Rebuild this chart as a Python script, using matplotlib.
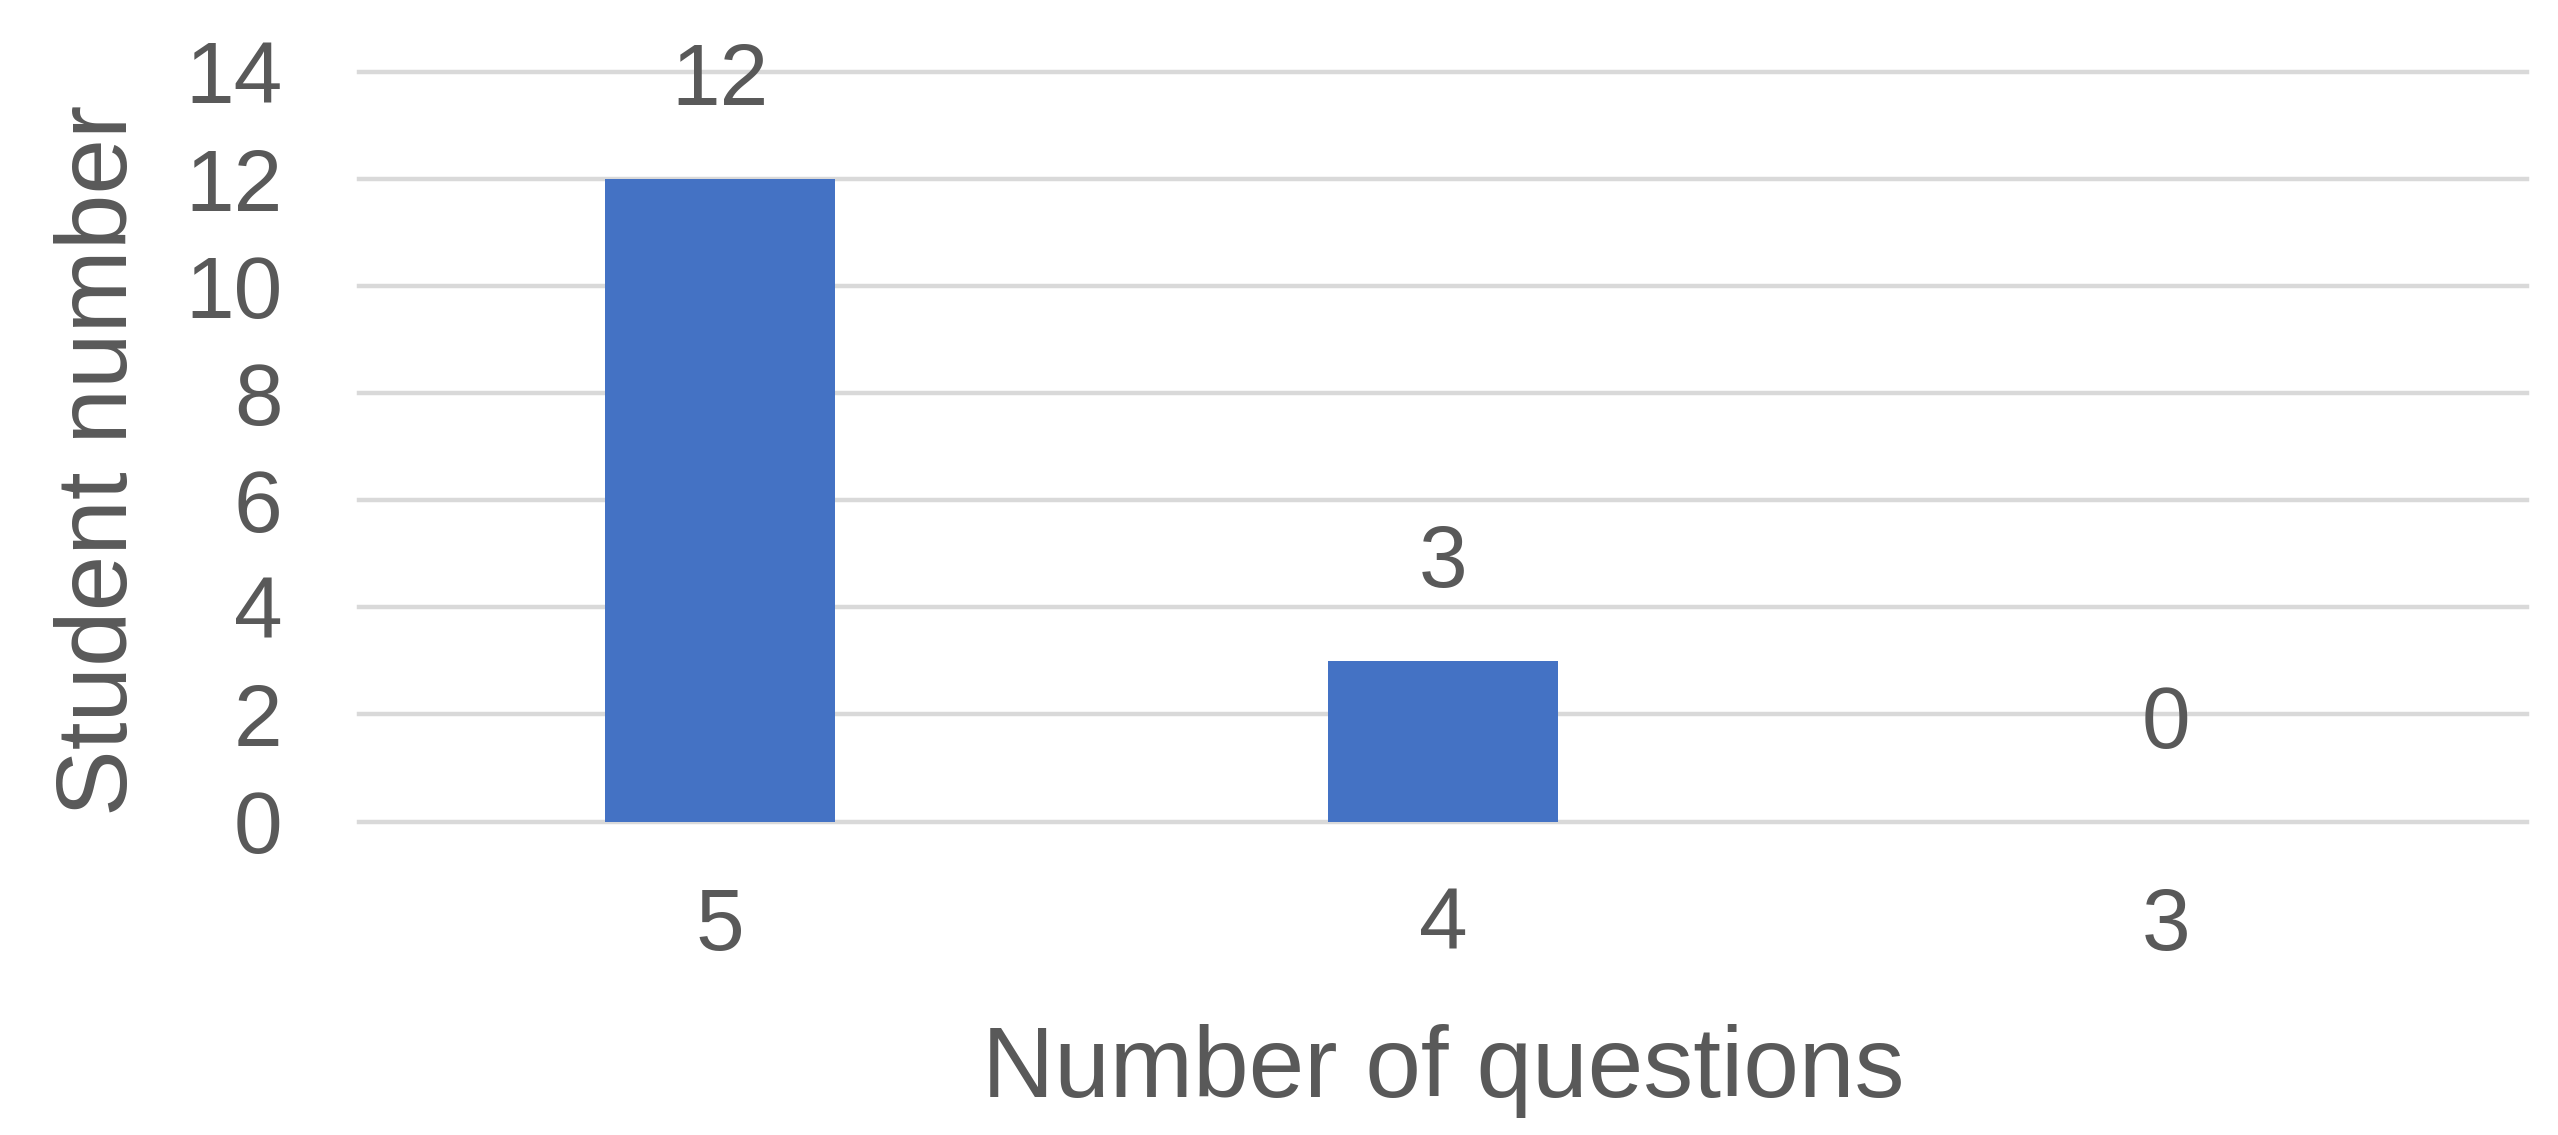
import matplotlib
matplotlib.use("Agg")
import matplotlib.pyplot as plt

categories = ["5", "4", "3"]
values = [12, 3, 0]
yticks = [0, 2, 4, 6, 8, 10, 12, 14]

plt.rcParams["font.family"] = ["Liberation Sans", "DejaVu Sans"]

text_c = "#595959"
fig = plt.figure(figsize=(25.58, 11.35), dpi=100)
ax = fig.add_axes([0.1403, 0.2762, 0.8476, 0.6604])

x = list(range(len(categories)))
ax.bar(x, values, width=0.318, color="#4472C4", zorder=3)
for xi, v in zip(x, values):
    ax.annotate(str(v), (xi, v), xytext=(0, 53), textcoords="offset points",
                ha="center", va="baseline", fontsize=63, color=text_c)

ax.set_xlim(-0.5, 2.5)
ax.set_ylim(0, 14)
ax.set_yticks(yticks)
ax.set_xticks(x)
ax.set_xticklabels(categories)
ax.yaxis.grid(True, color="#D9D9D9", linewidth=3.2, zorder=0)
ax.set_axisbelow(True)
for gl in ax.get_ygridlines():
    gl.set_clip_on(False)
for s in ax.spines.values():
    s.set_visible(False)
ax.tick_params(axis="both", length=0, labelsize=63, labelcolor=text_c)
ax.tick_params(axis="y", pad=55)
ax.tick_params(axis="x", pad=47)
ax.set_xlabel("Number of questions", fontsize=72, color=text_c)
ax.set_ylabel("Student number", fontsize=72, color=text_c)
ax.xaxis.set_label_coords(0.5, -0.270)
ax.yaxis.set_label_coords(-0.0973, 0.482)

fig.savefig("out.png", dpi=100, facecolor="white")
